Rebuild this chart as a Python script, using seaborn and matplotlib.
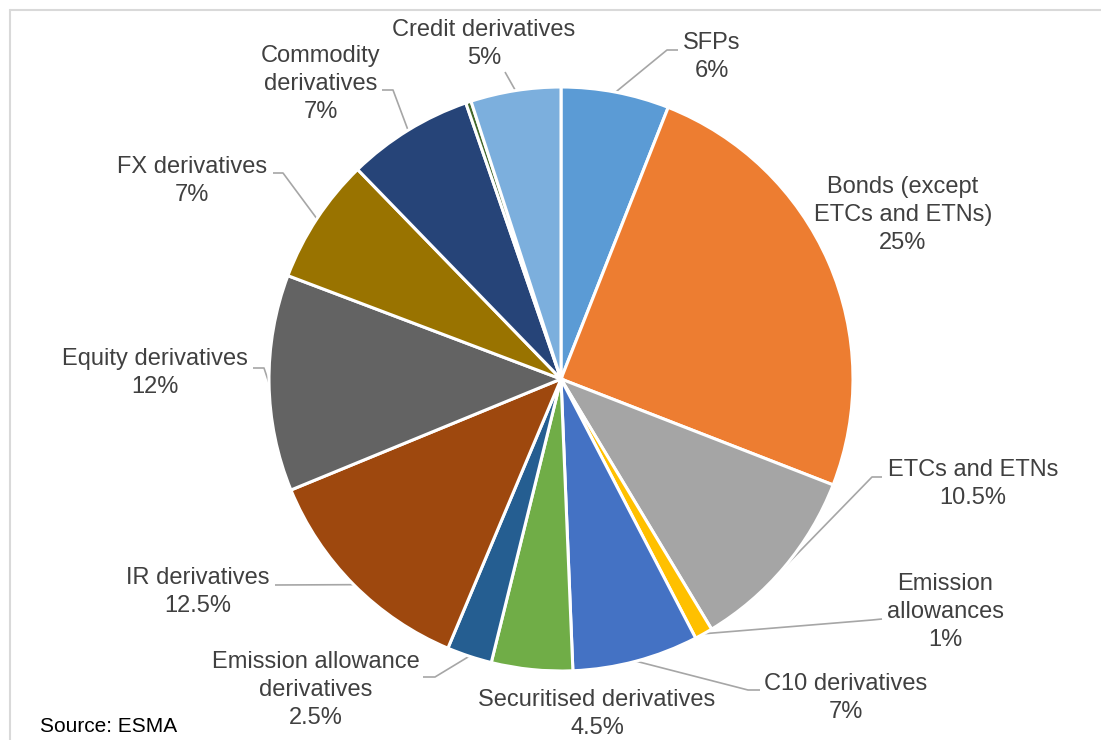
import matplotlib
matplotlib.use("Agg")
import numpy as np
import matplotlib.pyplot as plt
from matplotlib.lines import Line2D
import seaborn as sns

# Shares of the market by asset class, clockwise from 12 o'clock
categories = [
    "SFPs",
    "Bonds (except\nETCs and ETNs)",
    "ETCs and ETNs",
    "Emission\nallowances",
    "C10 derivatives",
    "Securitised derivatives",
    "Emission allowance\nderivatives",
    "IR derivatives",
    "Equity derivatives",
    "FX derivatives",
    "Commodity\nderivatives",
    None,
    "Credit derivatives",
]
shares = [6, 25, 10.5, 1, 7, 4.5, 2.5, 12.5, 12, 7, 7, 0.3, 5]
share_labels = ["6%", "25%", "10.5%", "1%", "7%", "4.5%", "2.5%",
                "12.5%", "12%", "7%", "7%", "", "5%"]
colors = ["#5B9BD5", "#ED7D31", "#A5A5A5", "#FFC000", "#4472C4", "#70AD47",
          "#255E91", "#9E480E", "#636363", "#997300", "#264478", "#43682B",
          "#7CAFDD"]

W, H = 1101, 740
CX, CY, R = 561, 379, 292          # pie centre / radius in pixel units (y from top)

# Label layout: text centre and leader-line elbow points (pixel units, y from top)
label_pos = [
    (712, 57), (903, 215), (973, 484), (945, 612), (846, 698), (597, 714),
    (316, 690), (198, 592), (155, 373), (192, 181), (321, 84), None, (484, 44),
]
leader_pts = [
    [(678, 50), (667, 50)],
    None,
    [(882, 477), (872, 477)],
    [(882, 619), (872, 620)],
    [(760, 690), (748, 690)],
    None,
    [(423, 677), (435, 677)],
    [(275, 585)],
    [(253, 368), (264, 368)],
    [(273, 173), (283, 173)],
    [(382, 90), (393, 90)],
    None,
    [(505, 72)],
]

sns.set_theme(style="white")
plt.rcParams["font.family"] = ["Liberation Sans", "DejaVu Sans"]

fig = plt.figure(figsize=(W / 100, H / 100), dpi=100)
ax = fig.add_axes([0, 0, 1, 1])
palette = sns.color_palette(colors)

wedges, _ = ax.pie(
    shares, colors=palette, startangle=90, counterclock=False,
    center=(CX, H - CY), radius=R,
    wedgeprops=dict(edgecolor="white", linewidth=2.2),
)
ax.set_xlim(0, W)
ax.set_ylim(0, H)
ax.axis("off")

text_color = "#404040"
line_color = "#A6A6A6"
for w, cat, lab, pos, pts in zip(wedges, categories, share_labels, label_pos, leader_pts):
    if cat is None:
        continue
    ax.text(pos[0], H - pos[1], f"{cat}\n{lab}", ha="center", va="center",
            fontsize=17, color=text_color, linespacing=1.38)
    if pts is None:
        continue
    mid = np.deg2rad((w.theta1 + w.theta2) / 2)
    ex, ey = w.center[0] + w.r * np.cos(mid), w.center[1] + w.r * np.sin(mid)
    xs = [p[0] for p in pts] + [ex]
    ys = [H - p[1] for p in pts] + [ey]
    ax.plot(xs, ys, color=line_color, lw=1.2, solid_capstyle="butt", zorder=0)

ax.text(40, H - 727, "Source: ESMA", ha="left", va="center",
        fontsize=15, color="black")

# Thin frame along the left and top edges
fig.add_artist(Line2D([10 / W, 10 / W], [0, 1 - 10 / H], color="#D9D9D9", lw=1.5))
fig.add_artist(Line2D([10 / W, 1], [1 - 10 / H, 1 - 10 / H], color="#D9D9D9", lw=1.5))

fig.savefig("out.png", dpi=100)
